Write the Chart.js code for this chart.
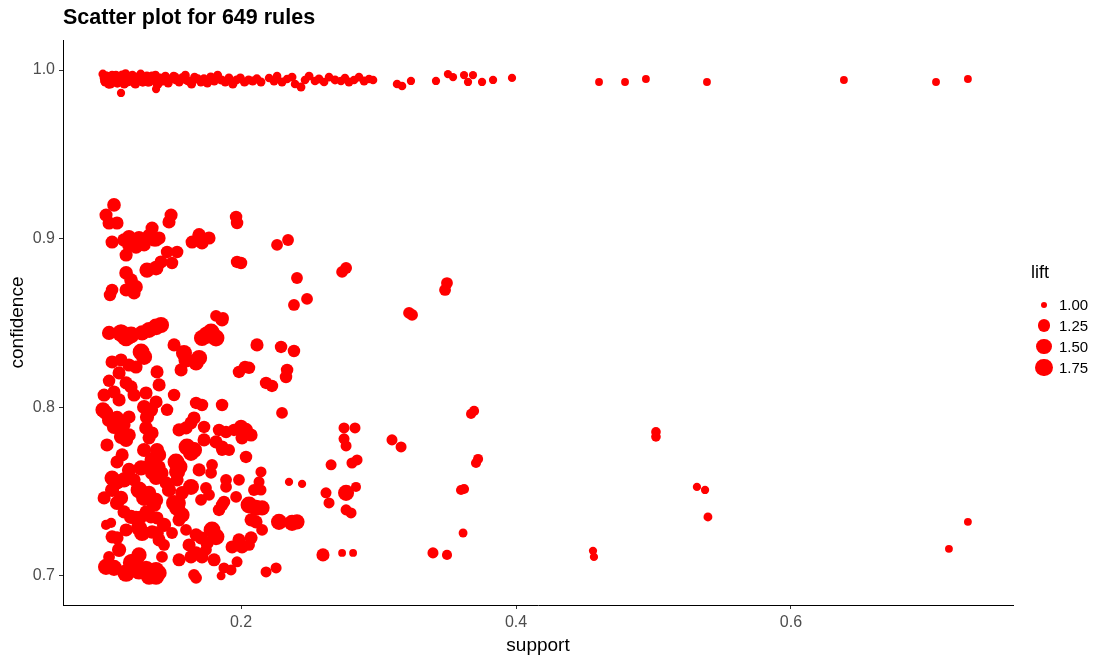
<!DOCTYPE html>
<html>
<head>
<meta charset="utf-8">
<title>Scatter plot for 649 rules</title>
<script src="https://cdn.jsdelivr.net/npm/chart.js@4.4.1/dist/chart.umd.min.js"></script>
<style>
	body { margin: 0; background: #ffffff; }
	#frame { position: relative; width: 1102px; height: 660px; font-family: "Liberation Sans", Arial, sans-serif; }
	#rules-chart { display: block; }
	#title { position: absolute; left: 63px; top: 5px; font-size: 21.5px; font-weight: bold; color: #000000; }
	#legend { position: absolute; left: 1031px; top: 262px; color: #000000; }
	#legend .head { font-size: 18px; height: 32px; }
	#legend .row { display: flex; align-items: center; height: 21px; }
	#legend .key { width: 26px; display: flex; justify-content: center; align-items: center; }
	#legend .dot { background: #ff0000; border-radius: 50%; }
	#legend .label { font-size: 15px; margin-left: 2px; }
</style>
</head>
<body>
<div id="frame">
	<canvas id="rules-chart" width="1102" height="660"></canvas>
	<div id="title">Scatter plot for 649 rules</div>
	<div id="legend"><div class="head">lift</div></div>
</div>
<script>
/* Rules with confidence close to 1 (the band along the top). */
const topSupport = [
	0.0995, 0.1005, 0.1012, 0.1020, 0.1030, 0.1038, 0.1045, 0.1055, 0.1062, 0.1070,
	0.1080, 0.1090, 0.1100, 0.1110, 0.1120, 0.1130, 0.1140, 0.1150, 0.1160, 0.1172,
	0.1185, 0.1198, 0.1210, 0.1225, 0.1240, 0.1255, 0.1270, 0.1285, 0.1300, 0.1315,
	0.1330, 0.1345, 0.1360, 0.1378, 0.1395, 0.1412, 0.1430, 0.1450, 0.1470, 0.1490,
	0.1510, 0.1530, 0.1550, 0.1572, 0.1595, 0.1618, 0.1640, 0.1662, 0.1685, 0.1708,
	0.1730, 0.1755, 0.1780, 0.1805, 0.1830, 0.1858, 0.1885, 0.1912, 0.1940, 0.1968,
	0.1995, 0.2025, 0.2055, 0.2085, 0.2115, 0.2145,
	0.1008, 0.1025, 0.1050, 0.1075, 0.1095, 0.1115, 0.1135, 0.1155, 0.1178, 0.1205,
	0.1232, 0.1262, 0.1292, 0.1322, 0.1352, 0.1385, 0.1420, 0.1460, 0.1520, 0.1600,
	0.1127, 0.1382,
	0.2204, 0.2240, 0.2262, 0.2298, 0.2335, 0.2371, 0.2393, 0.2436, 0.2465, 0.2495,
	0.2538, 0.2567, 0.2604, 0.2640, 0.2684, 0.2727, 0.2756, 0.2785, 0.2822, 0.2858,
	0.2895, 0.2931, 0.2960,
	0.3135, 0.3171, 0.3236, 0.3418, 0.3505, 0.3542, 0.3622, 0.3651, 0.3687, 0.3753,
	0.3833, 0.3971, 0.4604, 0.4793, 0.4945, 0.5389, 0.6385, 0.7055, 0.7287,
];
const topConfidence = [
	0.9976, 0.9953, 0.9929, 0.9964, 0.9941, 0.9917, 0.9958, 0.9935, 0.9970, 0.9947,
	0.9941, 0.9970, 0.9923, 0.9958, 0.9935, 0.9964, 0.9947, 0.9917, 0.9976, 0.9929,
	0.9953, 0.9935, 0.9970, 0.9923, 0.9958, 0.9941, 0.9976, 0.9929, 0.9947, 0.9964,
	0.9929, 0.9958, 0.9941, 0.9970, 0.9917, 0.9953, 0.9935, 0.9964, 0.9923, 0.9947,
	0.9964, 0.9941, 0.9929, 0.9953, 0.9970, 0.9935, 0.9917, 0.9958, 0.9947, 0.9929,
	0.9947, 0.9923, 0.9958, 0.9935, 0.9970, 0.9941, 0.9929, 0.9953, 0.9917, 0.9941,
	0.9953, 0.9929, 0.9941, 0.9935, 0.9947, 0.9929,
	0.9935, 0.9964, 0.9917, 0.9958, 0.9941, 0.9929, 0.9970, 0.9923, 0.9953, 0.9935,
	0.9917, 0.9958, 0.9941, 0.9929, 0.9964, 0.9923, 0.9947, 0.9935, 0.9958, 0.9941,
	0.9864, 0.9887,
	0.9953, 0.9935, 0.9964, 0.9929, 0.9947, 0.9958, 0.9917, 0.9899, 0.9941, 0.9964,
	0.9935, 0.9947, 0.9929, 0.9958, 0.9941, 0.9935, 0.9953, 0.9929, 0.9941, 0.9958,
	0.9935, 0.9947, 0.9941,
	0.9917, 0.9905, 0.9935, 0.9935, 0.9976, 0.9958, 0.9970, 0.9929, 0.9970, 0.9929,
	0.9941, 0.9953, 0.9929, 0.9929, 0.9947, 0.9929, 0.9941, 0.9929, 0.9947,
];
const topLift = [
	1.05, 1.06, 1.05, 1.06, 1.05, 1.07, 1.05, 1.06, 1.05, 1.06,
	1.06, 1.05, 1.07, 1.05, 1.06, 1.05, 1.06, 1.05, 1.07, 1.05,
	1.05, 1.06, 1.05, 1.06, 1.05, 1.06, 1.05, 1.07, 1.05, 1.06,
	1.06, 1.05, 1.06, 1.05, 1.07, 1.05, 1.06, 1.05, 1.06, 1.05,
	1.05, 1.06, 1.05, 1.06, 1.05, 1.05, 1.06, 1.05, 1.06, 1.05,
	1.06, 1.05, 1.06, 1.05, 1.05, 1.06, 1.05, 1.05, 1.06, 1.05,
	1.05, 1.06, 1.05, 1.05, 1.06, 1.05,
	1.06, 1.05, 1.06, 1.05, 1.06, 1.05, 1.06, 1.05, 1.06, 1.05,
	1.06, 1.05, 1.06, 1.05, 1.06, 1.05, 1.06, 1.05, 1.06, 1.05,
	1.03, 1.03,
	1.04, 1.05, 1.04, 1.05, 1.04, 1.05, 1.04, 1.05, 1.04, 1.05,
	1.04, 1.05, 1.04, 1.04, 1.05, 1.04, 1.04, 1.05, 1.04, 1.04,
	1.05, 1.04, 1.04,
	1.04, 1.04, 1.03, 1.03, 1.03, 1.03, 1.03, 1.03, 1.03, 1.03,
	1.03, 1.03, 1.02, 1.02, 1.02, 1.02, 1.02, 1.02, 1.02,
];

/* Rules with confidence between 0.7 and 0.92. */
const lowSupport = [
	0.1076, 0.1018, 0.1040, 0.1098, 0.1062, 0.1149, 0.1185, 0.1222, 0.1258, 0.1295,
	0.1331, 0.1367, 0.1404, 0.1185, 0.1295, 0.1164, 0.1236, 0.1353, 0.1382, 0.1491,
	0.1476, 0.1462, 0.1535, 0.1316, 0.1382, 0.1418, 0.1498, 0.1164, 0.1200, 0.1236,
	0.1222, 0.1062, 0.1047, 0.1164, 0.1644, 0.1695, 0.1767, 0.1716, 0.1964, 0.1971,
	0.1971, 0.2000, 0.2262, 0.2342, 0.2407, 0.2385, 0.2480, 0.2735, 0.2764, 0.1818,
	0.1869, 0.3222, 0.3244, 0.3484, 0.3498, 0.1040, 0.1127, 0.1164, 0.1200, 0.1280,
	0.1331, 0.1382, 0.1418, 0.1753, 0.1818, 0.1716, 0.1782, 0.1862, 0.2116, 0.2291,
	0.2385, 0.1273, 0.1295, 0.1062, 0.1127, 0.1585, 0.1600, 0.1695, 0.1673, 0.1564,
	0.1389, 0.1236, 0.1985, 0.2029, 0.2335, 0.2327, 0.2182, 0.2225, 0.1040, 0.1164,
	0.1200, 0.1113, 0.1076, 0.1113, 0.1222, 0.1309, 0.1382, 0.1295, 0.1345, 0.1316,
	0.1018, 0.1040, 0.1076, 0.1185, 0.1673, 0.1716, 0.1862, 0.1462, 0.1658, 0.1636,
	0.1549, 0.1600, 0.1731, 0.1840, 0.1891, 0.2000, 0.2036, 0.2073, 0.2007, 0.2298,
	0.2749, 0.2829, 0.2749, 0.2764, 0.3098, 0.3164, 0.3673, 0.3695, 0.3709, 0.3724,
	0.1127, 0.1164, 0.1185, 0.1309, 0.1353, 0.1331, 0.1607, 0.1644, 0.1818, 0.1862,
	0.1135, 0.1295, 0.1389, 0.1353, 0.1527, 0.1549, 0.1535, 0.1636, 0.1658, 0.1789,
	0.1782, 0.2036, 0.1862, 0.1273, 0.1331, 0.1353, 0.1382, 0.1062, 0.1098, 0.1149,
	0.1222, 0.1404, 0.1425, 0.1455, 0.1535, 0.1891, 0.1891, 0.2145, 0.2131, 0.2145,
	0.2349, 0.2444, 0.1062, 0.1127, 0.1098, 0.1258, 0.1295, 0.1331, 0.1382, 0.1367,
	0.1636, 0.1571, 0.1549, 0.1745, 0.1767, 0.1709, 0.1876, 0.1862, 0.1840, 0.1964,
	0.1513, 0.1535, 0.1571, 0.2058, 0.2109, 0.2153, 0.2655, 0.2807, 0.2844, 0.2618,
	0.2640, 0.2764, 0.2836, 0.2764, 0.2800, 0.1018, 0.1055, 0.1200, 0.1236, 0.1273,
	0.1309, 0.1345, 0.1389, 0.1164, 0.1258, 0.1280, 0.1353, 0.1389, 0.1062, 0.1098,
	0.1498, 0.1600, 0.1673, 0.1709, 0.1789, 0.1818, 0.1753, 0.2073, 0.2109, 0.1935,
	0.1985, 0.2007, 0.2073, 0.2153, 0.2276, 0.2371, 0.2407, 0.2058, 0.1440, 0.1425,
	0.1040, 0.1018, 0.1076, 0.1207, 0.1258, 0.1309, 0.1382, 0.1404, 0.1164, 0.1636,
	0.1673, 0.1716, 0.1745, 0.1971, 0.1876, 0.1927, 0.1855, 0.1658, 0.1673, 0.2182,
	0.2255, 0.2596, 0.2735, 0.2815, 0.1331, 0.1382, 0.3600, 0.3622, 0.3615, 0.3396,
	0.3498, 0.4560, 0.4567, 0.5018, 0.5018, 0.5316, 0.5375, 0.5396, 0.7287, 0.7149, 0.2058,
	/* more of the crowded lower-left block */
	0.0996, 0.1098, 0.1149, 0.1025, 0.1098, 0.1185, 0.1004, 0.1149, 0.1440, 0.1404,
	0.1549, 0.1622, 0.1476, 0.1404, 0.1695, 0.1731, 0.1913, 0.1949, 0.1513, 0.1404,
	0.1513, 0.1185, 0.1004, 0.1258, 0.1113, 0.1549, 0.1804, 0.2094, 0.1985,
];
const lowConfidence = [
	0.9200, 0.9140, 0.9093, 0.9093, 0.8980, 0.8992, 0.9010, 0.8975, 0.9004, 0.8986,
	0.9016, 0.8992, 0.9004, 0.8963, 0.8963, 0.8903, 0.8951, 0.9063, 0.8992, 0.9140,
	0.9099, 0.8921, 0.8921, 0.8814, 0.8826, 0.8862, 0.8856, 0.8797, 0.8755, 0.8714,
	0.8678, 0.8696, 0.8666, 0.8696, 0.8980, 0.9022, 0.9004, 0.8975, 0.9129, 0.9093,
	0.8862, 0.8856, 0.8963, 0.8992, 0.8767, 0.8607, 0.8643, 0.8803, 0.8826, 0.8542,
	0.8530, 0.8560, 0.8548, 0.8696, 0.8737, 0.8441, 0.8441, 0.8417, 0.8429, 0.8441,
	0.8459, 0.8477, 0.8488, 0.8429, 0.8411, 0.8411, 0.8447, 0.8518, 0.8370, 0.8358,
	0.8334, 0.8328, 0.8299, 0.8269, 0.8281, 0.8322, 0.8281, 0.8293, 0.8263, 0.8222,
	0.8210, 0.8239, 0.8210, 0.8239, 0.8222, 0.8180, 0.8145, 0.8127, 0.8157, 0.8145,
	0.8121, 0.8204, 0.8091, 0.8044, 0.8073, 0.8085, 0.8032, 0.8002, 0.7985, 0.7943,
	0.7967, 0.7925, 0.7884, 0.7943, 0.8026, 0.8014, 0.8014, 0.7985, 0.7937, 0.7908,
	0.7866, 0.7878, 0.7884, 0.7866, 0.7854, 0.7884, 0.7866, 0.7836, 0.7819, 0.7967,
	0.7878, 0.7878, 0.7813, 0.7771, 0.7807, 0.7765, 0.7961, 0.7979, 0.7670, 0.7694,
	0.7825, 0.7807, 0.7836, 0.7878, 0.7848, 0.7819, 0.7765, 0.7747, 0.7795, 0.7765,
	0.7718, 0.7747, 0.7747, 0.7688, 0.7676, 0.7647, 0.7617, 0.7730, 0.7747, 0.7659,
	0.7611, 0.7706, 0.7747, 0.7641, 0.7647, 0.7611, 0.7581, 0.7581, 0.7558, 0.7570,
	0.7570, 0.7647, 0.7611, 0.7552, 0.7570, 0.7570, 0.7528, 0.7617, 0.7558, 0.7510,
	0.7558, 0.7546, 0.7510, 0.7463, 0.7433, 0.7510, 0.7463, 0.7493, 0.7451, 0.7421,
	0.7528, 0.7493, 0.7433, 0.7522, 0.7481, 0.7451, 0.7439, 0.7421, 0.7392, 0.7469,
	0.7433, 0.7404, 0.7362, 0.7421, 0.7404, 0.7404, 0.7659, 0.7670, 0.7688, 0.7493,
	0.7433, 0.7493, 0.7528, 0.7392, 0.7374, 0.7303, 0.7315, 0.7350, 0.7344, 0.7350,
	0.7380, 0.7350, 0.7344, 0.7273, 0.7285, 0.7255, 0.7261, 0.7255, 0.7232, 0.7226,
	0.7255, 0.7273, 0.7244, 0.7226, 0.7273, 0.7232, 0.7196, 0.7333, 0.7321, 0.7172,
	0.7214, 0.7172, 0.7226, 0.7273, 0.7321, 0.7315, 0.7321, 0.7184, 0.7184, 0.7113,
	0.7113, 0.7054, 0.7048, 0.7078, 0.7036, 0.7036, 0.7036, 0.7018, 0.7018, 0.7113,
	0.7137, 0.7113, 0.7155, 0.7084, 0.7048, 0.7036, 0.7001, 0.7007, 0.6989, 0.7024,
	0.7048, 0.7125, 0.7137, 0.7137, 0.6995, 0.6995, 0.7510, 0.7516, 0.7255, 0.7137,
	0.7125, 0.7149, 0.7113, 0.7854, 0.7825, 0.7528, 0.7510, 0.7350, 0.7321, 0.7161, 0.8234,
	/* more of the crowded lower-left block */
	0.7985, 0.7937, 0.7896, 0.7777, 0.7676, 0.7629, 0.7463, 0.7380, 0.7303, 0.7214,
	0.7333, 0.7184, 0.7510, 0.7718, 0.7629, 0.7807, 0.7747, 0.7866, 0.8073, 0.8133,
	0.8370, 0.8251, 0.8073, 0.7125, 0.7155, 0.7096, 0.7096, 0.7510, 0.7570,
];
const lowLift = [
	1.35, 1.30, 1.30, 1.30, 1.30, 1.35, 1.40, 1.45, 1.40, 1.35,
	1.40, 1.30, 1.30, 1.35, 1.30, 1.30, 1.35, 1.30, 1.30, 1.30,
	1.30, 1.25, 1.25, 1.50, 1.45, 1.30, 1.25, 1.35, 1.35, 1.35,
	1.30, 1.25, 1.25, 1.30, 1.30, 1.35, 1.30, 1.30, 1.25, 1.25,
	1.25, 1.25, 1.20, 1.20, 1.20, 1.20, 1.20, 1.20, 1.20, 1.20,
	1.20, 1.20, 1.20, 1.20, 1.20, 1.40, 1.80, 1.90, 1.70, 1.50,
	1.60, 1.70, 1.60, 1.80, 1.70, 1.60, 1.70, 1.30, 1.30, 1.25,
	1.25, 1.70, 1.60, 1.30, 1.30, 1.60, 1.50, 1.60, 1.50, 1.30,
	1.30, 1.30, 1.25, 1.25, 1.25, 1.25, 1.25, 1.25, 1.25, 1.30,
	1.30, 1.30, 1.30, 1.30, 1.30, 1.30, 1.30, 1.40, 1.40, 1.40,
	1.45, 1.40, 1.40, 1.30, 1.25, 1.25, 1.25, 1.25, 1.30, 1.30,
	1.30, 1.30, 1.25, 1.25, 1.25, 1.40, 1.40, 1.30, 1.30, 1.20,
	1.15, 1.15, 1.15, 1.15, 1.15, 1.15, 1.10, 1.10, 1.10, 1.10,
	1.40, 1.40, 1.35, 1.35, 1.30, 1.30, 1.70, 1.60, 1.30, 1.30,
	1.30, 1.40, 1.40, 1.50, 1.70, 1.70, 1.60, 1.60, 1.60, 1.20,
	1.20, 1.25, 1.20, 1.50, 1.50, 1.40, 1.40, 1.50, 1.50, 1.50,
	1.30, 1.30, 1.30, 1.30, 1.30, 1.20, 1.20, 1.15, 1.15, 1.15,
	1.03, 1.03, 1.40, 1.40, 1.40, 1.70, 1.60, 1.40, 1.40, 1.40,
	1.60, 1.35, 1.35, 1.20, 1.20, 1.20, 1.25, 1.25, 1.25, 1.20,
	1.60, 1.60, 1.50, 1.70, 1.60, 1.50, 1.15, 1.15, 1.15, 1.15,
	1.15, 1.60, 1.10, 1.15, 1.15, 1.10, 1.10, 1.40, 1.40, 1.30,
	1.30, 1.30, 1.30, 1.30, 1.60, 1.60, 1.35, 1.35, 1.30, 1.30,
	1.20, 1.20, 1.30, 1.30, 1.70, 1.70, 1.30, 1.30, 1.30, 1.30,
	1.30, 1.30, 1.30, 1.20, 1.60, 1.60, 1.50, 1.20, 1.20, 1.20,
	1.20, 1.60, 1.60, 1.90, 2.05, 1.90, 1.60, 1.50, 1.80, 1.30,
	1.30, 1.30, 1.20, 1.15, 1.15, 1.15, 1.05, 1.20, 1.20, 1.15,
	1.15, 1.30, 1.02, 1.02, 1.60, 1.60, 1.10, 1.10, 1.05, 1.15,
	1.10, 1.03, 1.03, 1.08, 1.08, 1.03, 1.03, 1.05, 1.02, 1.02, 1.25,
	/* more of the crowded lower-left block */
	1.50, 1.40, 1.30, 1.30, 1.30, 1.40, 1.30, 1.30, 1.40, 1.30,
	1.30, 1.30, 1.40, 1.40, 1.30, 1.30, 1.20, 1.25, 1.25, 1.30,
	1.30, 1.30, 1.30, 1.50, 1.40, 1.30, 1.30, 1.20, 1.20,
];

/* Axis ticks and the sizes shown in the legend. */
const xTicks = [0.2, 0.4, 0.6];
const yTicks = [0.7, 0.8, 0.9, 1.0];
const legendLifts = [1.00, 1.25, 1.50, 1.75];

/* Point radius grows with the square root of the lift. */
const radiusOf = (lift) => 3 + 6.5 * Math.sqrt(Math.max(0, lift - 1));

const support = topSupport.concat(lowSupport);
const confidence = topConfidence.concat(lowConfidence);
const lift = topLift.concat(lowLift);

/* Size legend. */
const legend = document.getElementById("legend");
legendLifts.forEach((value) => {
	const row = document.createElement("div");
	row.className = "row";
	const d = 2 * radiusOf(value);
	row.innerHTML =
		'<div class="key"><div class="dot" style="width:' + d + 'px;height:' + d + 'px"></div></div>' +
		'<div class="label">' + value.toFixed(2) + '</div>';
	legend.appendChild(row);
});

Chart.defaults.font.family = '"Liberation Sans", Arial, sans-serif';

const rulesChart = new Chart(
	document.getElementById("rules-chart"),
	{
		type: "scatter",
		data:
		{
			datasets:
			[
				{
					label: "rules",
					data: support.map((s, i) => ({x: s, y: confidence[i]})),
					backgroundColor: "#ff0000",
					borderWidth: 0,
					pointRadius: (ctx) => radiusOf(lift[ctx.dataIndex]),
					pointHoverRadius: (ctx) => radiusOf(lift[ctx.dataIndex]) + 1,
				},
			],
		},
		options:
		{
			responsive: false,
			animation: false,
			layout:
			{
				padding: {top: 40, right: 89, bottom: 0, left: 0},
			},
			plugins:
			{
				legend: {display: false},
				tooltip:
				{
					callbacks:
					{
						label: (item) => ` support ${item.parsed.x.toFixed(3)}, confidence ${item.parsed.y.toFixed(3)}, lift ${lift[item.dataIndex].toFixed(2)}`,
					},
				},
			},
			scales:
			{
				x:
				{
					type: "linear",
					min: 0.0705,
					max: 0.7615,
					afterBuildTicks: (scale) => { scale.ticks = xTicks.map((v) => ({value: v})); },
					afterFit: (scale) => { scale.height = 55; },
					ticks:
					{
						callback: (v) => Number(v).toFixed(1),
						color: "#4d4d4d",
						font: {size: 16},
						padding: 4,
						maxRotation: 0,
					},
					grid: {display: true, drawOnChartArea: false, drawTicks: true, tickLength: 4, color: "#333333"},
					border: {display: true, color: "#000000", width: 1},
					title:
					{
						display: true,
						text: "support",
						color: "#000000",
						font: {size: 19},
						padding: {top: 0, bottom: 3},
					},
				},
				y:
				{
					type: "linear",
					min: 0.6828,
					max: 1.0178,
					afterBuildTicks: (scale) => { scale.ticks = yTicks.map((v) => ({value: v})); },
					afterFit: (scale) => { scale.width = 63; },
					ticks:
					{
						callback: (v) => Number(v).toFixed(1),
						color: "#4d4d4d",
						font: {size: 16},
						padding: 4,
					},
					grid: {display: true, drawOnChartArea: false, drawTicks: true, tickLength: 4, color: "#333333"},
					border: {display: true, color: "#000000", width: 1},
					title:
					{
						display: true,
						text: "confidence",
						color: "#000000",
						font: {size: 19},
						padding: {top: 6, bottom: 0},
					},
				},
			},
		},
	}
);
</script>
</body>
</html>
